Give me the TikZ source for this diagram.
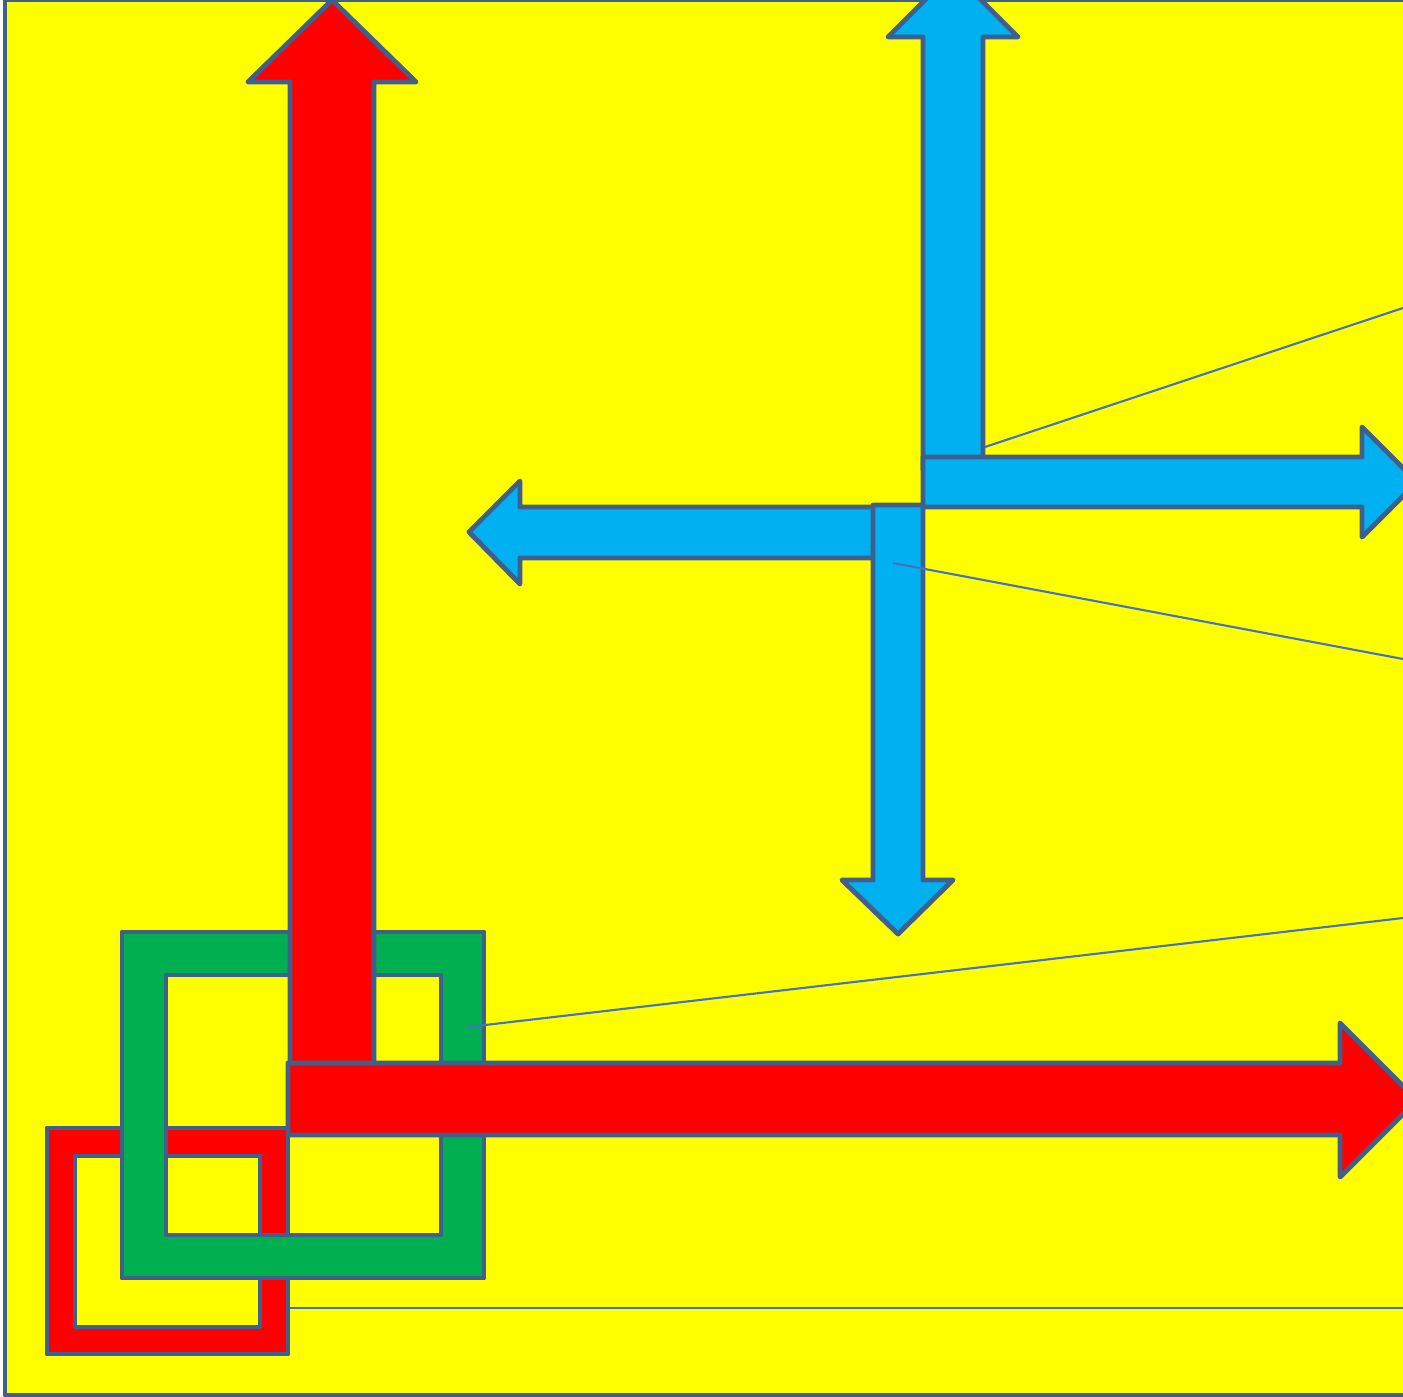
\documentclass[tikz,border=0pt]{standalone}
\usetikzlibrary{arrows.meta}
\definecolor{PlateYellow}{HTML}{FFFF00}
\definecolor{EdgeSlate}{HTML}{3F5F8C}
\definecolor{LeadBlue}{HTML}{4472C4}
\definecolor{ArrowRed}{HTML}{FF0000}
\definecolor{ArrowBlue}{HTML}{00B0F0}
\definecolor{RingGreen}{HTML}{00B050}

\begin{document}
\begin{tikzpicture}[
    x=0.01cm, y=-0.01cm,
    block/.style={fill=#1, draw=EdgeSlate, line width=1.4pt, line join=round},
    ringbox/.style={block=#1, even odd rule},
    leader/.style={draw=LeadBlue, line width=0.6pt}
]

  \useasboundingbox (0,0) rectangle (1403,1397);
  \clip (0,0) rectangle (1403,1397);

  % -------------------------------------------------------------
  % FUNDO
  % -------------------------------------------------------------
  \path[block=PlateYellow] (5,0) rectangle (1420,1395);

  % -------------------------------------------------------------
  % MOLDURAS (aneis entrelacados)
  % -------------------------------------------------------------
  \path[ringbox=ArrowRed] (47,1128) rectangle (288,1354) (75,1156) rectangle (260,1327);
  \path[ringbox=RingGreen] (122,932) rectangle (484,1278) (166,975) rectangle (441,1235);

  % -------------------------------------------------------------
  % SETAS VERMELHAS (cima / direita)
  % -------------------------------------------------------------
  \path[block=ArrowRed] (290,1100) -- (290,82) -- (248,82) -- (332,0) -- (416,82) -- (374,82) -- (374,1100) -- cycle;
  \path[block=ArrowRed] (288,1063) -- (1340,1063) -- (1340,1023) -- (1417,1100) -- (1340,1177) -- (1340,1135) -- (288,1135) -- cycle;

  % -------------------------------------------------------------
  % SETAS AZUIS (quatro direcoes)
  % -------------------------------------------------------------
  \path[block=ArrowBlue] (923,470) -- (923,37) -- (888,37) -- (953,-28) -- (1018,37) -- (983,37) -- (983,470) -- cycle;
  \path[block=ArrowBlue] (923,457) -- (1362,457) -- (1362,427) -- (1417,482) -- (1362,537) -- (1362,507) -- (923,507) -- cycle;
  \path[block=ArrowBlue] (885,507) -- (520,507) -- (520,481) -- (469,532) -- (520,584) -- (520,558) -- (885,558) -- cycle;
  \path[block=ArrowBlue] (873,505) -- (923,505) -- (923,880) -- (953,880) -- (898,934) -- (842,880) -- (873,880) -- cycle;

  % -------------------------------------------------------------
  % LINHAS DE CHAMADA
  % -------------------------------------------------------------
  \coordinate (upFoot) at (985,447);
  \coordinate (upCall) at (1403,308);
  \coordinate (downMid) at (893,563);
  \coordinate (downCall) at (1403,659);
  \coordinate (greenSide) at (468,1027);
  \coordinate (greenCall) at (1403,918);
  \coordinate (redEdge) at (290,1308);
  \coordinate (redCall) at (1403,1308);

  \draw[leader] (upFoot) -- (upCall);
  \draw[leader] (downMid) -- (downCall);
  \draw[leader] (greenSide) -- (greenCall);
  \draw[leader] (redEdge) -- (redCall);

\end{tikzpicture}
\end{document}
